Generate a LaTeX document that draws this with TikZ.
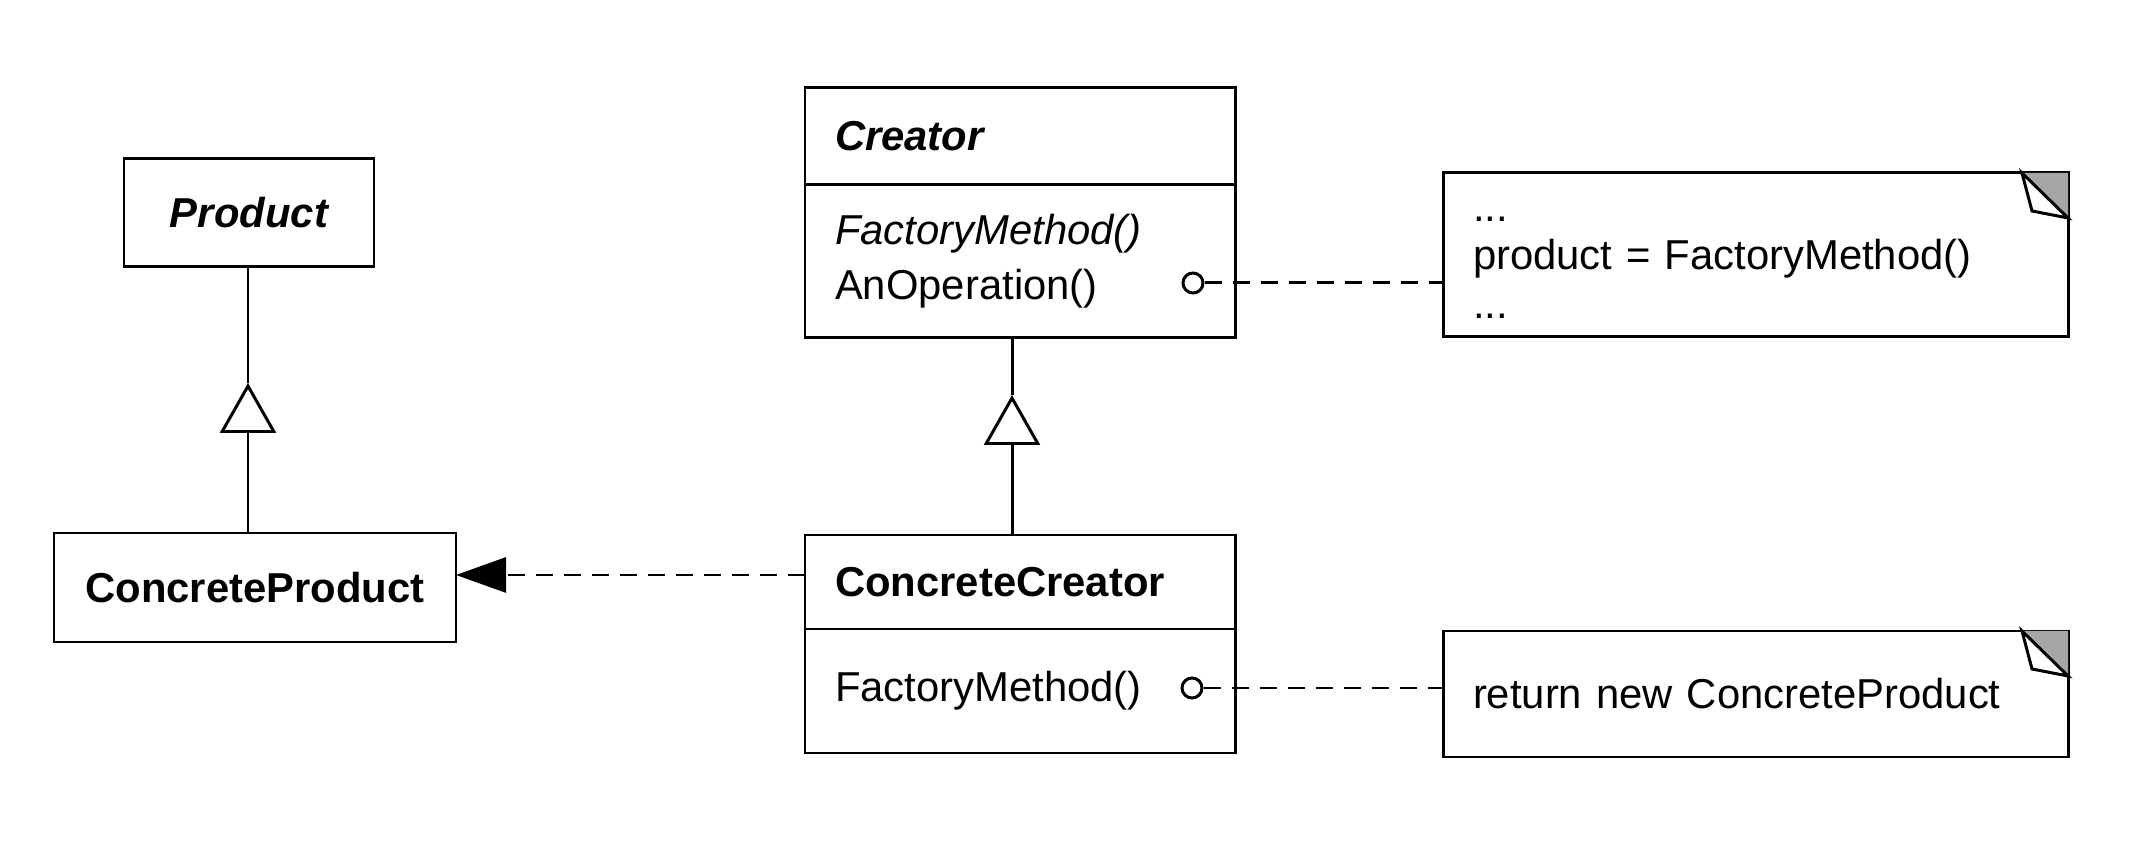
\documentclass[tikz,border=0pt]{standalone}
\usepackage{fontspec}
\setmainfont{Liberation Sans}
\usetikzlibrary{arrows.meta, positioning}

\tikzset{
  ln/.style={line width=0.85pt},
  cls/.style={draw, ln, outer sep=0pt, text width=3.70cm, inner xsep=0.30cm, inner ysep=0pt, align=left},
  box/.style={draw, ln, outer sep=0pt, inner sep=0pt, align=center},
  note/.style={draw, ln, outer sep=0pt, text width=5.65cm, inner xsep=0.30cm, inner ysep=0pt, align=left,
    font=\fontsize{11.9}{13.9}\selectfont},
  dep/.style={ln, dash pattern=on 0.17cm off 0.11cm},
  inh/.style={ln, -{Triangle[open, length=0.50cm, width=0.56cm]}},
  pin/.style={circle, draw, ln, minimum size=0.20cm, inner sep=0pt},
}

% 便签折角
\newcommand{\fold}[1]{
  \fill[gray!70] (#1.north east) -- ++(-0.46,0) -- ++(0.46,-0.45) -- cycle;
  \draw[ln, fill=white] ([xshift=-0.46cm]#1.north east) -- ++(0.10,-0.38) -- ++(0.36,-0.07) -- cycle;
}

\begin{document}
\begin{tikzpicture}[every node/.style={font=\fontsize{11.9}{15.6}\selectfont}]

            \useasboundingbox (0,0) rectangle (21.38,-8.64);

            % 产品
            \node[box, minimum width=2.50cm, minimum height=1.08cm] (prod) at (2.49,-2.13) {\bfseries\itshape Product};
            \node[box, minimum width=4.02cm, minimum height=1.09cm] (cprod) at (2.55,-5.875) {\bfseries ConcreteProduct};

            % 创建者
            \node[cls, minimum height=0.97cm] (creator) at (10.20,-1.365) {\bfseries\itshape Creator};
            \node[cls, minimum height=1.53cm, below=0pt of creator] (ops)
            {{\itshape FactoryMethod()}\\AnOperation()};

            \node[cls, minimum height=0.94cm] (cc) at (10.20,-5.82) {\bfseries ConcreteCreator};
            \node[cls, minimum height=1.24cm, below=0pt of cc] (ccops) {FactoryMethod()};

            % 便签
            \node[note, minimum height=1.64cm] (note1) at (17.555,-2.55)
            {\rule{0pt}{0.30cm}...\\product = FactoryMethod()\\...};
            \node[note, minimum height=1.26cm] (note2) at (17.555,-6.94)
            {return new ConcreteProduct};
            \fold{note1}
            \fold{note2}

            % 继承
            \coordinate (tipP) at (2.48,-3.83);
            \draw[inh] (tipP |- cprod.north) -- (tipP);
            \draw[ln] (tipP) -- (tipP |- prod.south);

            \coordinate (tipC) at (10.12,-3.95);
            \draw[inh] (tipC |- cc.north) -- (tipC);
            \draw[ln] (tipC) -- (tipC |- ops.south);

            % 依赖
            \draw[dep, -{Triangle[length=0.50cm, width=0.35cm]}]
            ([yshift=0.07cm]cc.west) -- ([yshift=0.07cm]cc.west -| cprod.east);

            % 注释连线
            \node[pin] (pin1) at (11.93,-2.83) {};
            \node[pin] (pin2) at (11.92,-6.88) {};
            \draw[dep] (pin1.east) -- (pin1 -| note1.west);
            \draw[dep] (pin2.east) -- (pin2 -| note2.west);

        \end{tikzpicture}
\end{document}
